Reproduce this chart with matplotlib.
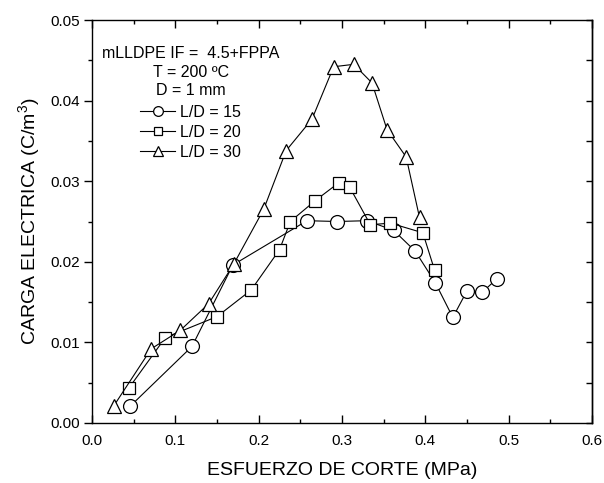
import matplotlib
matplotlib.use("Agg")
import matplotlib.pyplot as plt
from matplotlib.ticker import MultipleLocator, FormatStrFormatter

plt.rcParams["font.family"] = ["Liberation Sans", "DejaVu Sans"]
plt.rcParams["mathtext.fontset"] = "custom"
plt.rcParams["mathtext.rm"] = "Liberation Sans"
plt.rcParams["mathtext.it"] = "Liberation Sans:italic"

# Shear stress (MPa) and electric charge (C/m^3) for each L/D ratio
x_ld15 = [0.046, 0.120, 0.169, 0.258, 0.294, 0.330, 0.362, 0.388, 0.412, 0.433, 0.450, 0.468, 0.486]
y_ld15 = [0.0021, 0.0095, 0.0196, 0.0251, 0.0250, 0.0251, 0.0239, 0.0213, 0.0174, 0.0131, 0.0164, 0.0162, 0.0179]

x_ld20 = [0.044, 0.088, 0.150, 0.191, 0.225, 0.238, 0.268, 0.296, 0.309, 0.334, 0.358, 0.397, 0.411]
y_ld20 = [0.0043, 0.0106, 0.0132, 0.0165, 0.0215, 0.0250, 0.0276, 0.0298, 0.0293, 0.0246, 0.0248, 0.0236, 0.0190]

x_ld30 = [0.026, 0.071, 0.106, 0.140, 0.170, 0.206, 0.233, 0.264, 0.290, 0.314, 0.336, 0.354, 0.377, 0.393]
y_ld30 = [0.0021, 0.0092, 0.0115, 0.0148, 0.0197, 0.0265, 0.0338, 0.0377, 0.0442, 0.0445, 0.0422, 0.0364, 0.0330, 0.0255]

series_labels = ["L/D = 15", "L/D = 20", "L/D = 30"]
legend_title = "mLLDPE IF =  4.5+FPPA\nT = 200 \u00baC\nD = 1 mm"

fig = plt.figure(figsize=(6.04, 4.83), dpi=100)
ax = fig.add_axes([92 / 604, 1 - 423 / 483, 500 / 604, 403 / 483])

common = dict(color="black", lw=0.8, markerfacecolor="white",
              markeredgecolor="black", markeredgewidth=0.9)
ax.plot(x_ld15, y_ld15, marker="o", markersize=10, label=series_labels[0], zorder=3, **common)
ax.plot(x_ld20, y_ld20, marker="s", markersize=8, label=series_labels[1], zorder=3, **common)
ax.plot(x_ld30, y_ld30, marker="^", markersize=10.5, label=series_labels[2], zorder=3, **common)

ax.set_xlim(0.0, 0.6)
ax.set_ylim(0.0, 0.05)
ax.xaxis.set_major_locator(MultipleLocator(0.1))
ax.xaxis.set_minor_locator(MultipleLocator(0.05))
ax.yaxis.set_major_locator(MultipleLocator(0.01))
ax.yaxis.set_minor_locator(MultipleLocator(0.005))
ax.xaxis.set_major_formatter(FormatStrFormatter("%.1f"))
ax.yaxis.set_major_formatter(FormatStrFormatter("%.2f"))

for s in ax.spines.values():
    s.set_linewidth(1.0)

ax.tick_params(axis="both", which="major", labelsize=11, length=5.5, width=1.0)
ax.tick_params(axis="both", which="minor", length=3, width=1.0)
ax.tick_params(axis="x", which="both", direction="in", top=True, pad=8)
ax.tick_params(axis="y", which="both", direction="out", left=True, pad=3)

# Inward ticks on the right spine
ax_r = ax.secondary_yaxis("right")
ax_r.yaxis.set_major_locator(MultipleLocator(0.01))
ax_r.yaxis.set_minor_locator(MultipleLocator(0.005))
ax_r.tick_params(which="both", direction="in", labelright=False, width=1.0, length=4)
ax_r.spines["right"].set_linewidth(1.0)

ax.set_xlabel("ESFUERZO DE CORTE (MPa)", fontsize=14, labelpad=10)
ax.set_ylabel("CARGA ELECTRICA (C/m$^{3}$)", fontsize=14, labelpad=6)

leg = ax.legend(title=legend_title, loc="upper left", bbox_to_anchor=(0.02, 0.935),
                frameon=False, fontsize=11.5, title_fontsize=11.5, numpoints=1,
                markerscale=0.7, handlelength=2.2, handletextpad=0.3,
                labelspacing=0.31, borderaxespad=0.0, borderpad=0.0)
leg._legend_box.align = "center"
leg._legend_box.sep = 5
leg.get_title().set_multialignment("center")
leg.get_title().set_linespacing(1.28)

fig.savefig("out.png", dpi=100)
